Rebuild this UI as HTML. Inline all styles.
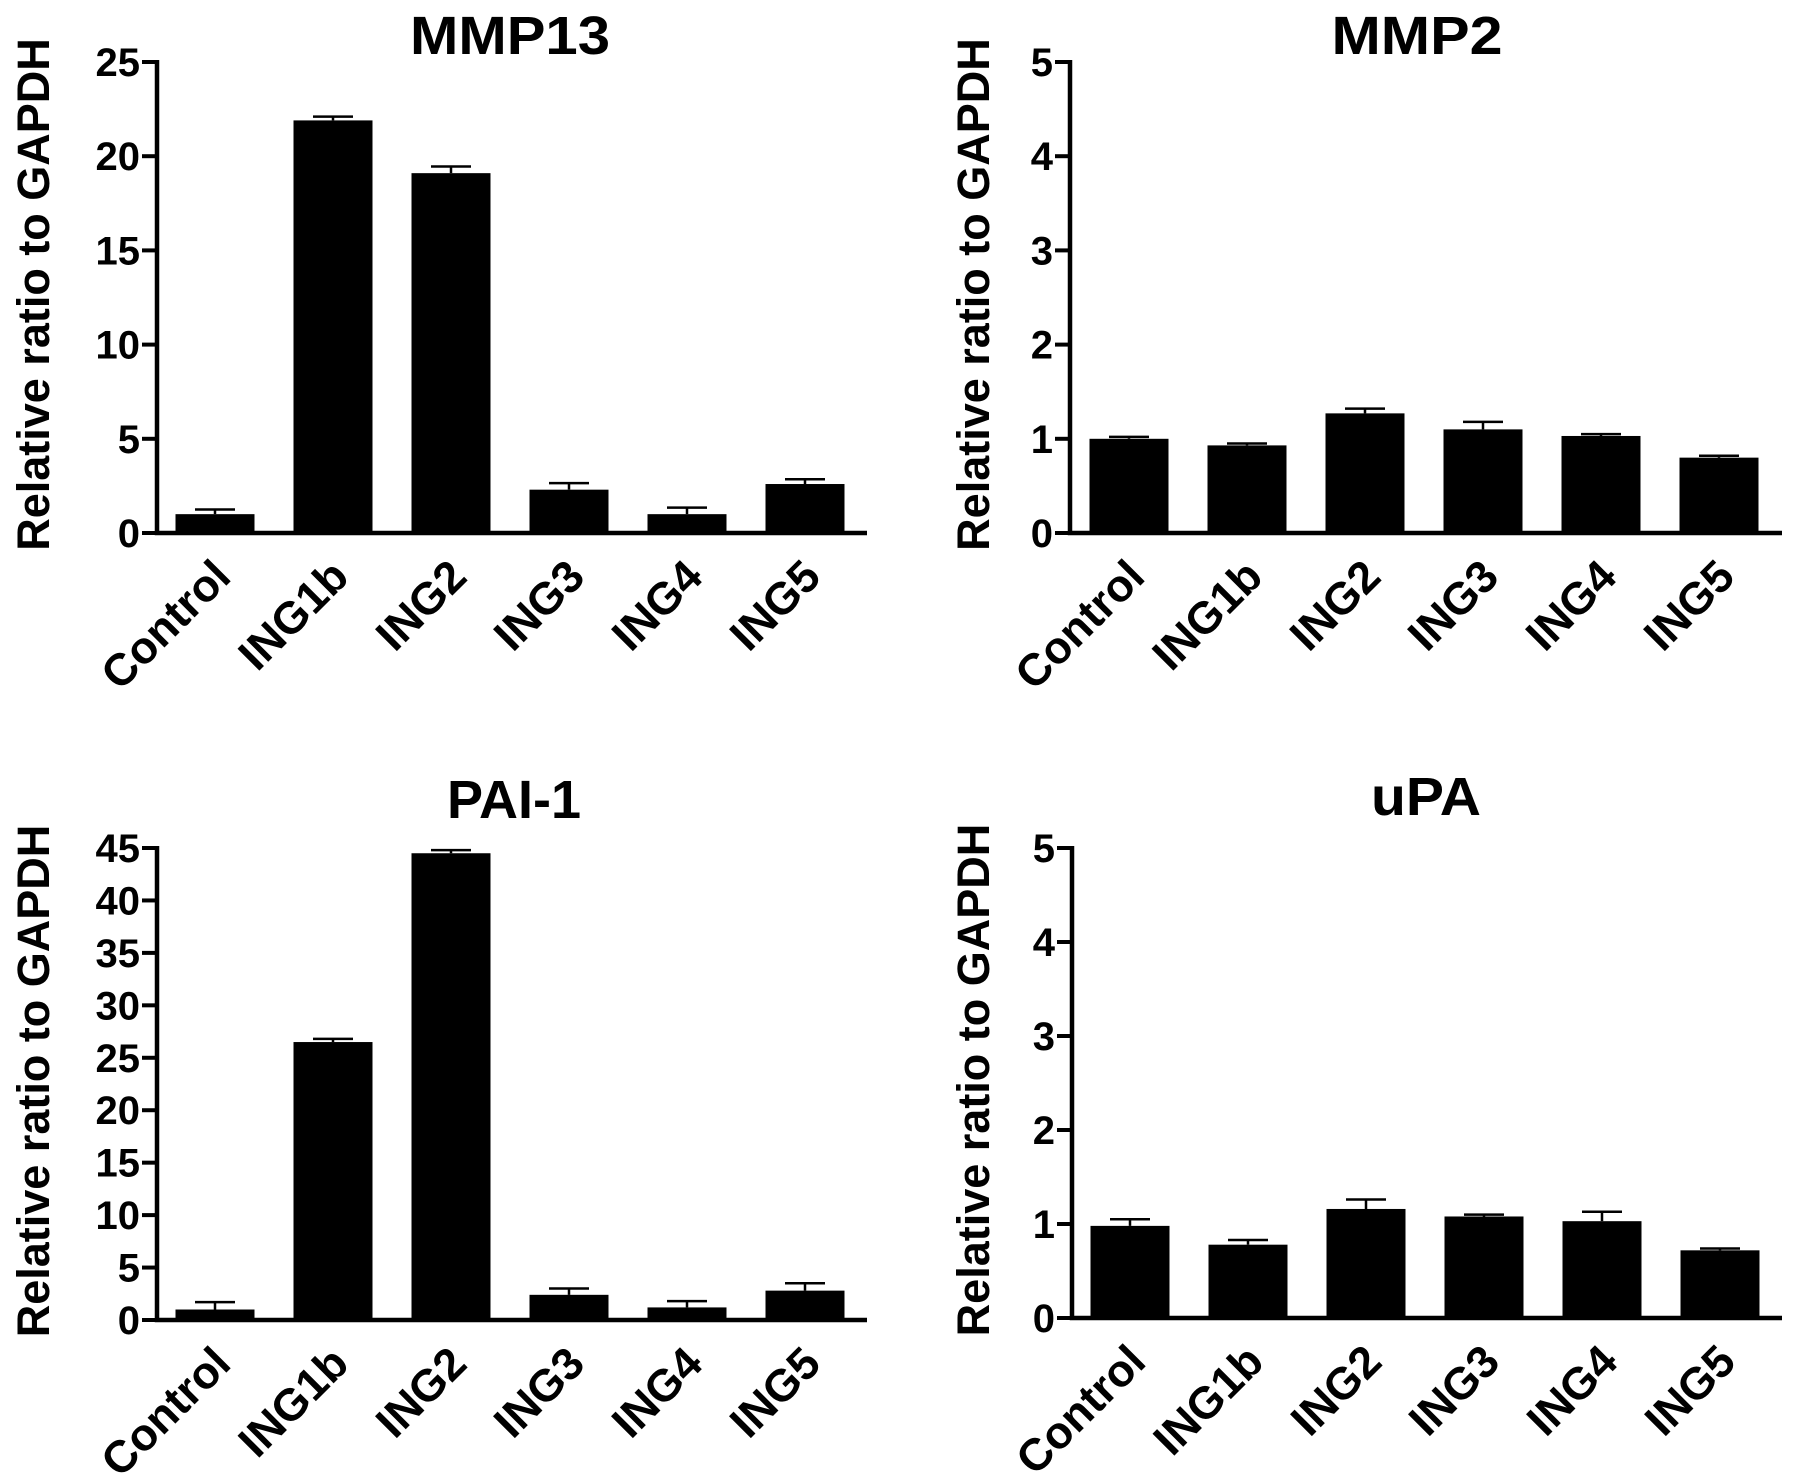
<!DOCTYPE html>
<html><head><meta charset="utf-8">
<style>
html,body{margin:0;padding:0;background:#fff;}
svg{display:block;}
text{font-family:"Liberation Sans",Arial,sans-serif;font-weight:bold;fill:#000;}
</style></head>
<body>
<svg id="fig" width="1795" height="1479" viewBox="0 0 1795 1479" xmlns="http://www.w3.org/2000/svg"></svg>
<script>
const categories = ["Control","ING1b","ING2","ING3","ING4","ING5"];
const mmp13Values = [1.0, 21.9, 19.1, 2.3, 1.0, 2.6];
const mmp13Errors = [0.25, 0.2, 0.35, 0.35, 0.35, 0.25];
const mmp13Ticks = ["0","5","10","15","20","25"];
const mmp2Values = [1.0, 0.93, 1.27, 1.1, 1.03, 0.8];
const mmp2Errors = [0.02, 0.02, 0.05, 0.08, 0.02, 0.02];
const mmp2Ticks = ["0","1","2","3","4","5"];
const pai1Values = [1.0, 26.5, 44.5, 2.4, 1.2, 2.8];
const pai1Errors = [0.7, 0.3, 0.3, 0.6, 0.6, 0.7];
const pai1Ticks = ["0","5","10","15","20","25","30","35","40","45"];
const upaValues = [0.98, 0.78, 1.16, 1.08, 1.03, 0.72];
const upaErrors = [0.07, 0.05, 0.1, 0.02, 0.1, 0.02];
const upaTicks = ["0","1","2","3","4","5"];

const NS = "http://www.w3.org/2000/svg";
const svg = document.getElementById("fig");
function mk(tag, attrs, parent){
  const e = document.createElementNS(NS, tag);
  for (const k in attrs) e.setAttribute(k, attrs[k]);
  (parent||svg).appendChild(e);
  return e;
}

function chart(cfg, values, errors, ticks){
  const g = mk("g", {});
  
  
  const maxV = parseFloat(ticks[ticks.length-1]);
  const y = v => cfg.zero - (v / maxV) * (cfg.zero - cfg.top);
  const x = i => cfg.first + i * cfg.step;
  const t = mk("text", {x: cfg.titleX, y: cfg.titleY, "text-anchor":"middle", "font-size":54, textLength: cfg.titleW, lengthAdjust:"spacingAndGlyphs"}, g);
  t.textContent = cfg.title;
  
  
  const yc = (cfg.top + cfg.zero) / 2 - 3;
  const yl = mk("text", {x: cfg.labelX, y: yc, "text-anchor":"middle", "font-size":45, transform:`rotate(-90 ${cfg.labelX} ${yc})`, dy:"16"}, g);
  yl.textContent = "Relative ratio to GAPDH";
  
  
  values.forEach((v, i) => {
    const cx = x(i), w = cfg.barW;
    const r = mk("rect", {x: cx - w/2, y: y(v), width: w, height: cfg.zero - y(v), fill:"#000"}, g);
    
    
    const ye = y(v + errors[i]);
    const el = mk("path", {d:`M${cx} ${y(v)}V${ye}M${cx-20} ${ye}H${cx+20}`, stroke:"#000", "stroke-width":2.5, fill:"none"}, g);
    
    
    const lx = cx + 18, ly = cfg.zero + 46;
    const lab = mk("text", {x: lx, y: ly, "text-anchor":"end", "font-size":45, transform:`rotate(-45 ${lx} ${ly})`}, g);
    lab.textContent = categories[i];
    
    
  });
  const ax = mk("path", {d:`M${cfg.axisX} ${cfg.top-2}V${cfg.zero}H${cfg.axisEnd}`, stroke:"#000", "stroke-width":4.5, fill:"none"}, g);
  
  
  ticks.forEach(tk => {
    const ty = y(parseFloat(tk));
    const tl = mk("path", {d:`M${cfg.axisX-15} ${ty}H${cfg.axisX}`, stroke:"#000", "stroke-width":4}, g);
    
    
    const tt = mk("text", {x: cfg.axisX - 17, y: ty + 14, "text-anchor":"end", "font-size":40}, g);
    tt.textContent = tk;
    
    
  });
}

chart({name:"mmp13", title:"MMP13", titleX:510, titleY:54, titleW:200, labelX:33, axisX:157, top:62, zero:533, axisEnd:867, first:215, step:118, barW:79}, mmp13Values, mmp13Errors, mmp13Ticks);
chart({name:"mmp2", title:"MMP2", titleX:1417, titleY:54, titleW:171, labelX:973, axisX:1070, top:62, zero:533, axisEnd:1782, first:1129, step:118, barW:79}, mmp2Values, mmp2Errors, mmp2Ticks);
chart({name:"pai1", title:"PAI-1", titleX:514, titleY:818, titleW:134, labelX:33, axisX:157, top:848, zero:1320, axisEnd:867, first:215, step:118, barW:79}, pai1Values, pai1Errors, pai1Ticks);
chart({name:"upa", title:"uPA", titleX:1426, titleY:815, titleW:110, labelX:973, axisX:1072, top:848, zero:1318, axisEnd:1782, first:1130, step:118, barW:79}, upaValues, upaErrors, upaTicks);
</script>
</body></html>
